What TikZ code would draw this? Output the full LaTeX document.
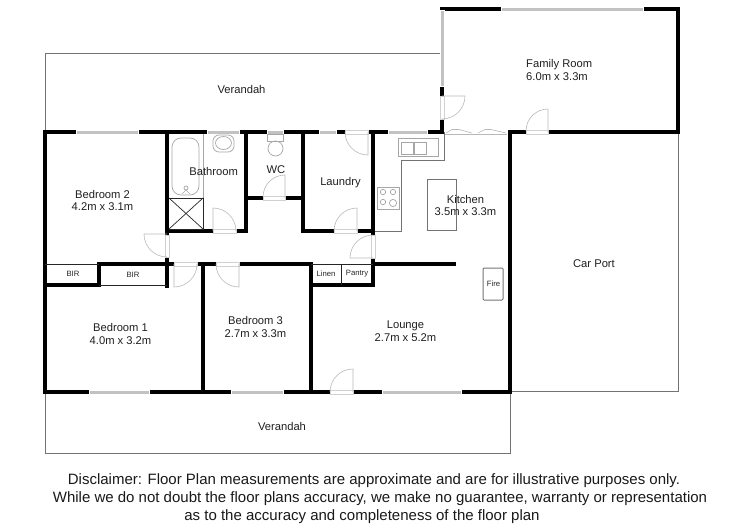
\documentclass[tikz,border=0pt]{standalone}
\usepackage{fontspec}
\setmainfont{Liberation Sans}
\begin{document}
\begin{tikzpicture}[x=1pt, y=-1pt,
	wall/.style={draw=black,line width=4.3pt,line cap=rect,line join=miter},
	fine/.style={draw=black!85,line width=0.7pt},
	outl/.style={draw=black!55,line width=1pt},
	fixt/.style={draw=black!35,line width=0.7pt},
	door/.style={draw=black!28,line width=0.6pt},
	gap/.style={fill=white,draw=black!18,line width=0.5pt},
	wind/.style={fill=black!24,draw=white,line width=0.6pt},
	lbl/.style={text=black!88,font=\fontsize{11.2}{12.6}\selectfont,align=center,inner sep=0pt},
	tiny/.style={text=black!85,font=\fontsize{7.7}{8}\selectfont,inner sep=0pt},
	disc/.style={text=black!90,font=\fontsize{15}{16}\selectfont,inner sep=0pt}]
	\useasboundingbox (0,0) rectangle (750,530);

	\draw[outl] (45,132) -- (45,53) -- (442,53);
	\draw[outl] (45,392) -- (45,453) -- (510,453) -- (510,392);
	\draw[outl] (510,391) -- (678,391) -- (678,132);

	\draw[wall] (45,132) -- (45,392) -- (510,392) -- (510,132) -- (678,132) -- (678,9) -- (442,9) -- (442,132);
	\draw[wall] (45,132) -- (442,132);
	\draw[wall] (167,132) -- (167,233);
	\draw[wall] (167,257) -- (167,286);
	\draw[wall] (246,132) -- (246,231) -- (167,231);
	\draw[wall] (246,198) -- (303,198);
	\draw[wall] (303,132) -- (303,231) -- (373,231);
	\draw[wall] (373,132) -- (373,285) -- (311,285);
	\draw[wall] (99,285) -- (99,264) -- (311,264) -- (311,392);
	\draw[wall] (99,285) -- (45,285);
	\draw[wall] (203,264) -- (203,392);
	\draw[wall] (373,264) -- (454,264);
	\draw[fine] (45,264) -- (99,264);
	\draw[fine] (99,285) -- (167,285);
	\draw[fine] (311,264) -- (373,264);
	\draw[fine] (341,264) -- (341,285);

	\fill[white] (445,129) rectangle (507,135);
	\draw[door] (446,133) -- (452,129.5) -- (459,129.5) -- (472,133);
	\draw[door] (478,133) -- (485,129.5) -- (491,129.5) -- (506,133);
	\draw[door] (445,134.5) -- (507,134.5);

	\draw[wind] (76,130) rectangle (138,134);
	\draw[wind] (207,130) rectangle (239,134);
	\draw[wind] (267,130) rectangle (283,134);
	\draw[wind] (319,130) rectangle (336,134);
	\draw[wind] (388,130) rectangle (427,134);
	\draw[wind] (501,7) rectangle (643,11);
	\draw[wind] (440,10) rectangle (444,86);
	\draw[wind] (89,390) rectangle (149,394);
	\draw[wind] (231,390) rectangle (283,394);
	\draw[wind] (382,390) rectangle (461,394);

	\draw[gap] (213,229) rectangle (236,233.5);
	\draw[gap] (263,196) rectangle (285,200.5);
	\draw[gap] (345,130) rectangle (368,134.5);
	\draw[gap] (334,229) rectangle (357,233.5);
	\draw[gap] (371,235) rectangle (375,258);
	\draw[gap] (165,235) rectangle (169,257);
	\draw[gap] (174,262) rectangle (197,266.5);
	\draw[gap] (216,262) rectangle (239,266.5);
	\draw[gap] (330,390) rectangle (353,394.5);
	\draw[gap] (526,130) rectangle (548,134.5);
	\draw[gap] (440,96) rectangle (444,119);

	\draw[door] (213,231) -- (213,208) arc (-90:0:23);
	\draw[door] (285,198) -- (285,175) arc (-90:-180:22);
	\draw[door] (368,132) -- (368,155) arc (90:180:23);
	\draw[door] (357,231) -- (357,208) arc (-90:-180:23);
	\draw[door] (373,258) -- (350,258) arc (180:270:23);
	\draw[door] (167,234) -- (144,234) arc (180:90:23);
	\draw[door] (174,264) -- (174,287) arc (90:0:23);
	\draw[door] (239,264) -- (239,287) arc (90:180:23);
	\draw[door] (353,392) -- (353,369) arc (-90:-180:23);
	\draw[door] (548,132) -- (548,109) arc (-90:-180:22);
	\draw[door] (442,96) -- (465,96) arc (0:90:23);

	\draw[fixt] (203,134) -- (203,198);
	\draw[fixt,rounded corners=9pt] (172,138) rectangle (199,195);
	\draw[fixt] (186,188) circle (2);
	\draw[fixt] (182,194) -- (186,190) -- (190,194);
	\draw[fine] (169,198) -- (203,198) -- (203,229) -- (169,229);
	\draw[fine] (169,198) -- (203,229);
	\draw[fine] (169,229) -- (203,198);
	\draw[fixt,rounded corners=6pt] (213,135) rectangle (234,152);
	\draw[fixt] (223.5,143) ellipse (8 and 6.5);
	\draw[fixt] (267,134) rectangle (283,141);
	\draw[fixt] (275.5,148.5) ellipse (7.5 and 7.5);

	\draw[outl] (444,132) -- (444,160) -- (401,160) -- (401,231) -- (375,231);
	\draw[fixt] (398,138) rectangle (438,156);
	\draw[fixt] (401,142) rectangle (413,154);
	\draw[fixt] (414,142) rectangle (426,154);
	\draw[fixt] (377,187) rectangle (399,209);
	\draw[fixt] (383,192) circle (2.7);
	\draw[fixt] (393,192) circle (2.7);
	\draw[fixt] (383,202) circle (2.7);
	\draw[fixt] (393,203) circle (3.6);
	\draw[outl] (427,179) rectangle (456,230);
	\draw[outl,rounded corners=1pt] (483,268) rectangle (503,300);

	\node[lbl] (verandah1) at (241.5,89) {Verandah};
	\node[lbl,align=left,anchor=west] (family) at (526,70) {Family Room\\6.0m x 3.3m};
	\node[lbl] (bathroom) at (213.7,171.5) {Bathroom};
	\node[lbl] (wc) at (276,169.5) {WC};
	\node[lbl] (laundry) at (340.5,183) {Laundry};
	\node[lbl] (kitchen) at (465.5,205.5) {Kitchen\\3.5m x 3.3m};
	\node[lbl] (bedtwo) at (102.5,200.5) {Bedroom 2\\4.2m x 3.1m};
	\node[lbl] (bedone) at (120.5,334) {Bedroom 1\\4.0m x 3.2m};
	\node[lbl] (bedthree) at (255.5,327) {Bedroom 3\\2.7m x 3.3m};
	\node[lbl] (lounge) at (405.5,331) {Lounge\\2.7m x 5.2m};
	\node[lbl] (carport) at (594,264) {Car Port};
	\node[lbl] (verandah2) at (282,426) {Verandah};
	\node[tiny] (bir1) at (73,274) {BIR};
	\node[tiny] (bir2) at (133,275) {BIR};
	\node[tiny] (linen) at (326,274) {Linen};
	\node[tiny] (pantry) at (357,274) {Pantry};
	\node[tiny] (fire) at (493.5,283.5) {Fire};
	\node[disc] (disc1) at (374,481) {Disclaimer: Floor Plan measurements are approximate and are for illustrative purposes only.};
	\node[disc] (disc2) at (380,499) {While we do not doubt the floor plans accuracy, we make no guarantee, warranty or representation};
	\node[disc] (disc3) at (362,517) {as to the accuracy and completeness of the floor plan};
\end{tikzpicture}
\end{document}
